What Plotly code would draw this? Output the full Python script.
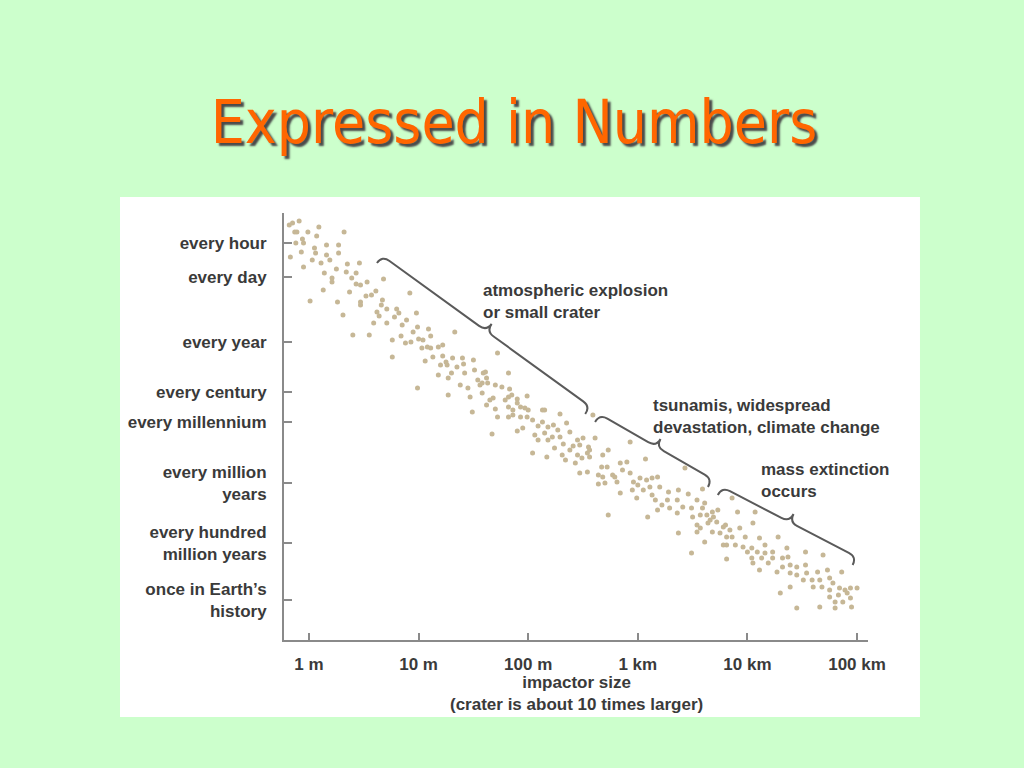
import plotly.graph_objects as go

# ---------------- data ----------------
# x: impactor size as log10(metres); y: frequency scale position (axis units)
size_log10 = [
    -0.18, -0.15, -0.09, -0.13, -0.11, -0.01, 0.09, 0.07, 0.32, -0.12, -0.05, -0.06, -0.07, -0.17,
    0.05, 0.06, 0.03, 0.16, 0.27, 0.27, 0.16, 0.19, 0.11, -0.05, 0.14, 0.25, 0.34, 0.35, 0.46,
    0.43, 0.39, 0.21, 0.21, 0.43, 0.47, 0.53, 0.68, 0.13, 0.37, 0.52, 0.57, 0.61, 0.47, 0.47,
    0.01, 0.26, 0.67, 0.66, 0.71, 0.80, 0.82, 0.62, 0.64, 0.78, 0.92, 0.98, 0.31, 0.59, 0.71,
    0.85, 0.89, 0.99, 1.09, 0.40, 0.55, 0.76, 0.84, 0.93, 1.00, 1.11, 1.03, 0.76, 1.11,
    0.99, 1.49, 1.72, 1.82, 1.33,
    0.95, 0.88, 1.04, 1.18, 1.22, 1.06, 1.13, 1.22, 1.31, 1.40, 1.20, 1.26, 1.35, 1.50, 1.30,
    1.42, 1.51, 1.59, 1.18, 1.27, 1.54, 1.62, 1.38, 1.45, 1.56, 1.70, 1.76, 1.27, 1.47, 1.58,
    1.68, 1.82, 1.90, 1.99, 1.62, 1.70, 1.82, 1.86, 1.93, 2.00, 1.82, 1.99,
    1.25, 1.41, 1.08,
    1.61, 1.58, 1.63, 1.83, 1.85, 1.65, 1.79, 1.72, 1.90, 1.97, 1.86, 1.93, 2.13, 2.15, 2.29,
    2.04, 2.13, 2.09, 1.95, 1.90, 2.18, 2.23, 2.35, 1.67, 2.06, 2.15, 2.22, 2.27, 2.29, 2.38,
    2.18, 2.09, 2.45, 2.50, 2.61, 2.32, 2.41, 2.47, 2.55, 2.24, 2.38, 2.54, 2.04, 2.17, 2.31,
    2.45, 2.56, 2.68, 2.73, 2.34, 2.43, 2.67, 2.72, 2.47, 2.64, 2.77, 2.64, 2.59,
    2.56, 2.49, 2.93, 3.07, 2.84, 2.90, 2.79, 2.86, 2.93, 2.96, 3.02, 3.08, 3.13, 3.18, 3.43,
    2.54, 2.68, 2.70, 2.81, 2.95, 3.00, 3.05, 3.11, 3.20, 2.84, 2.99, 3.13, 3.28, 3.37, 3.46,
    3.59, 3.16, 3.27, 3.36, 3.22, 3.29, 3.41, 3.49, 3.54, 3.61, 3.73, 3.36, 3.50, 3.57, 3.63,
    3.69, 2.73, 3.09, 3.18, 3.54, 3.64, 3.72, 3.78, 3.37, 3.54, 3.68, 3.75, 3.81, 3.61, 3.81,
    3.86, 3.59, 3.68, 3.91, 4.07, 3.66, 3.80, 4.05, 3.57, 3.84, 3.93, 3.86, 3.98, 4.11, 4.28,
    3.78, 3.89, 3.96, 4.04, 4.16, 4.00, 4.09, 4.16, 4.23, 4.36, 4.53, 3.49, 4.04, 4.13, 4.23,
    4.32, 4.37, 4.69, 3.81, 4.05, 4.19, 4.32, 4.39, 4.45, 4.53, 4.11, 4.27, 4.39, 4.45, 4.54,
    4.64, 4.73, 4.86, 4.51, 4.59, 4.66, 4.75, 4.78, 4.39, 4.60, 4.68, 4.75, 4.84, 4.89, 4.94,
    4.30, 4.75, 4.83, 4.91, 4.94, 4.87, 4.80, 4.45, 4.66, 4.80, 4.95, 5.00,
]
frequency = [
    415, 417, 419, 408, 408, 408, 413, 404, 408, 397, 397, 401, 388, 383,
    392, 387, 380, 395, 395, 387, 385, 380, 377, 373, 367, 371, 368, 376, 377,
    367, 362, 362, 358, 356, 355, 358, 361, 350, 348, 344, 345, 349, 338, 335,
    339, 338, 340, 335, 331, 331, 327, 328, 324, 323, 347, 327, 325, 317, 317,
    315, 320, 313, 311, 305, 305, 300, 304, 298, 301, 304, 292, 283, 292,
    252, 228, 287, 267, 308,
    308, 297, 300, 293, 295, 279, 283, 284, 282, 282, 275, 275, 273, 280, 267,
    267, 270, 267, 265, 262, 260, 262, 255, 252, 255, 255, 253, 245, 243, 247,
    242, 243, 241, 244, 235, 231, 233, 230, 233, 230, 223, 223,
    278, 276, 293,
    268, 257, 257, 251, 245, 240, 240, 223, 237, 232, 225, 223, 230, 230, 226,
    220, 218, 214, 212, 209, 213, 215, 217, 206, 205, 207, 203, 210, 203, 208,
    200, 200, 200, 202, 202, 196, 194, 195, 193, 192, 190, 187, 187, 183, 185,
    185, 183, 185, 190, 180, 177, 173, 173, 167, 165, 165, 156, 225,
    190, 182, 198, 181, 177, 178, 163, 170, 167, 158, 162, 160, 162, 163, 172,
    168, 163, 157, 158, 150, 155, 150, 153, 153, 147, 142, 145, 148, 150, 146,
    151, 140, 140, 140, 135, 132, 133, 132, 140, 137, 130, 127, 123, 125, 125,
    123, 125, 123, 130, 115, 117, 118, 113, 107, 108, 108, 107, 103, 98, 95,
    142, 132, 128, 128, 128, 120, 115, 117, 112, 110, 112, 103, 103, 102, 103,
    95, 95, 93, 92, 95, 88, 88, 87, 88, 92, 88, 87, 82, 82, 82,
    82, 83, 85, 81, 77, 77, 73, 75, 73, 75, 70, 68, 67, 65, 67,
    68, 70, 68, 60, 60, 60, 62, 57, 53, 53, 53, 50, 52, 50, 52,
    47, 43, 45, 47, 42, 38, 38, 32, 33, 32, 33, 52,
]

x_tick_vals = [0, 1, 2, 3, 4, 5]
x_tick_text = ["1 m", "10 m", "100 m", "1 km", "10 km", "100 km"]

y_tick_vals = [397, 363, 298, 248, 218, 157, 97, 40]
y_tick_text = ["every hour", "every day", "every year", "every century", "every millennium",
               "every million<br>years", "every hundred<br>million years",
               "once in Earth\u2019s<br>history"]

brace_labels = ["atmospheric explosion<br>or small crater",
                "tsunamis, widespread<br>devastation, climate change",
                "mass extinction<br>occurs"]
brace_start = [(0.62, 377), (2.61, 218), (3.73, 145)]
brace_end = [(2.52, 226), (3.64, 153), (4.96, 75)]
label_pos = [(1.57, 339), (3.12, 224), (4.106, 160)]

# ---------------- figure ----------------
X_RANGE = [-0.228, 5.10]
Y_RANGE = [0, 427]
PX_PER_X = 109.6   # screen scale for brace geometry
PX_PER_Y = 1.0

fig = go.Figure()
fig.add_trace(go.Scatter(
    x=size_log10, y=frequency, mode="markers",
    marker=dict(size=5, color="#c6b796", line=dict(width=0)),
    hoverinfo="skip", showlegend=False,
))

def brace_path(p0, p1, h=9.0):
    x0, y0 = p0[0] * PX_PER_X, p0[1] * PX_PER_Y
    x1, y1 = p1[0] * PX_PER_X, p1[1] * PX_PER_Y
    dx, dy = x1 - x0, y1 - y0
    L = (dx * dx + dy * dy) ** 0.5
    ux, uy = dx / L, dy / L
    nx, ny = -uy, ux
    if ny < 0:
        nx, ny = -nx, -ny
    mx, my = (x0 + x1) / 2, (y0 + y1) / 2

    def P(x, y):
        return f"{x / PX_PER_X:.4f},{y / PX_PER_Y:.3f}"

    pts = []
    pts.append("M " + P(x0, y0))
    pts.append("Q " + P(x0 + nx * h, y0 + ny * h) + " " + P(x0 + nx * h + ux * h, y0 + ny * h + uy * h))
    pts.append("L " + P(mx + nx * h - ux * h, my + ny * h - uy * h))
    pts.append("Q " + P(mx + nx * h, my + ny * h) + " " + P(mx + nx * 2 * h, my + ny * 2 * h))
    pts.append("Q " + P(mx + nx * h, my + ny * h) + " " + P(mx + nx * h + ux * h, my + ny * h + uy * h))
    pts.append("L " + P(x1 + nx * h - ux * h, y1 + ny * h - uy * h))
    pts.append("Q " + P(x1 + nx * h, y1 + ny * h) + " " + P(x1, y1))
    return " ".join(pts)

shapes = [
    dict(type="rect", xref="paper", yref="paper", x0=-0.2808, x1=1.089, y0=-0.1803, y1=1.0375,
         fillcolor="white", line=dict(width=0), layer="below"),
]
for s, e in zip(brace_start, brace_end):
    shapes.append(dict(type="path", xref="x", yref="y", path=brace_path(s, e),
                       line=dict(color="#5a5a5a", width=2)))

annotations = []
for txt, (ax, ay) in zip(brace_labels, label_pos):
    annotations.append(dict(x=ax, y=ay, xref="x", yref="y", text=txt, showarrow=False,
                            xanchor="left", yanchor="middle", align="left",
                            font=dict(family="Liberation Sans, Arial, sans-serif", size=17,
                                      color="#3a3a3a", weight="bold")))
annotations.append(dict(x=0.5, y=-0.126, xref="paper", yref="paper",
                        text="impactor size<br>(crater is about 10 times larger)",
                        showarrow=False, xanchor="center", yanchor="middle", align="center",
                        font=dict(family="Liberation Sans, Arial, sans-serif", size=17,
                                  color="#3a3a3a", weight="bold")))

fig.update_layout(
    width=1024, height=768,
    margin=dict(l=284, r=156, t=213, b=128, pad=0),
    paper_bgcolor="#CCFFCC", plot_bgcolor="rgba(0,0,0,0)",
    title=dict(text="Expressed in Numbers", x=0.502, y=0.841, xref="container", yref="container",
               xanchor="center", yanchor="middle",
               font=dict(family="DejaVu Sans Condensed, DejaVu Sans, sans-serif", size=60,
                         color="#FF6600", shadow="3px 3px 2px #4a4a4a")),
    xaxis=dict(range=X_RANGE, showgrid=False, zeroline=False, showline=True,
               linecolor="#8a8a8a", linewidth=2, ticks="inside", ticklen=7, tickwidth=1.5,
               tickcolor="#8a8a8a", tickvals=x_tick_vals, ticktext=x_tick_text,
               ticklabelstandoff=8,
               tickfont=dict(family="Liberation Sans, Arial, sans-serif", size=17,
                             color="#3a3a3a", weight="bold")),
    yaxis=dict(range=Y_RANGE, showgrid=False, zeroline=False, showline=True,
               linecolor="#8a8a8a", linewidth=2, ticks="inside", ticklen=8, tickwidth=1.5,
               tickcolor="#8a8a8a", tickvals=y_tick_vals, ticktext=y_tick_text,
               ticklabelstandoff=12,
               tickfont=dict(family="Liberation Sans, Arial, sans-serif", size=17,
                             color="#3a3a3a", weight="bold")),
    shapes=shapes, annotations=annotations,
)

fig.write_html("out.html", config={"displayModeBar": False},
               post_script="document.body.style.margin='0';")
